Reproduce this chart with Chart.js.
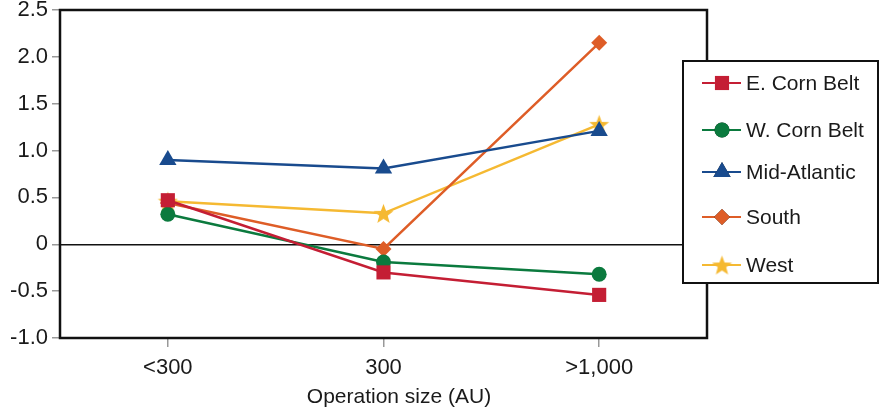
<!DOCTYPE html>
<html lang="en">
<head>
    <meta charset="UTF-8">
    <script src="https://cdn.jsdelivr.net/npm/chart.js"></script>
    <title>Operation size</title>
    <style>
        body { margin: 0; background: #fff; }
        #wrap { width: 879px; height: 416px; }
    </style>
</head>
<body>
    <div id="wrap"><canvas id="sizeChart"></canvas></div>

    <script>
        // data
        var sizes = ["<300", "300", ">1,000"]
        var eCornBelt = [0.47, -0.30, -0.54]
        var wCornBelt = [0.32, -0.19, -0.32]
        var midAtlantic = [0.90, 0.81, 1.21]
        var south = [0.44, -0.05, 2.15]
        var west = [0.46, 0.33, 1.28]
        var xTitle = "Operation size (AU)"

        var FONT = "'Liberation Sans', Arial, sans-serif"

        // filled five point star for the West series
        function makeStar (color, size) {
            var c = document.createElement("canvas")
            c.width = size
            c.height = size
            var g = c.getContext("2d")
            var cx = size / 2, cy = size / 2 + 1, R = size / 2, r = R * 0.42
            g.beginPath()
            for (var i = 0; i < 10; i++) {
                var rad = i % 2 == 0 ? R : r
                var a = -Math.PI / 2 + i * Math.PI / 5
                var px = cx + rad * Math.cos(a), py = cy + rad * Math.sin(a)
                if (i == 0) g.moveTo(px, py)
                else g.lineTo(px, py)
            }
            g.closePath()
            g.fillStyle = color
            g.fill()
            return c
        }

        function series (label, data, color, style, radius) {
            return {
                label: label,
                data: data,
                borderColor: color,
                backgroundColor: color,
                pointStyle: style,
                pointRadius: radius,
                pointHoverRadius: radius,
                borderWidth: 2.5,
                pointBorderWidth: 0,
                fill: false,
                tension: 0
            }
        }

        var starImg = makeStar("#f5b932", 21)

        var datasets = [
            series("E. Corn Belt", eCornBelt, "#c41e34", "rect", 10),
            series("W. Corn Belt", wCornBelt, "#0b7a3e", "circle", 7.5),
            series("Mid-Atlantic", midAtlantic, "#194b8e", "triangle", 10),
            series("South", south, "#de5d27", "rectRot", 8),
            series("West", west, "#f5b932", starImg, 8)
        ]

        // frame around the plot, and the axis title (sits a bit right of centre in the original)
        var frame = {
            id: "frame",
            beforeDatasetsDraw: function (chart) {
                var a = chart.chartArea, ctx = chart.ctx
                ctx.save()
                ctx.strokeStyle = "#111"
                ctx.lineWidth = 2.5
                ctx.strokeRect(a.left, a.top, a.right - a.left, a.bottom - a.top)
                ctx.fillStyle = "#1a1a1a"
                ctx.font = "21px " + FONT
                ctx.textAlign = "center"
                ctx.textBaseline = "middle"
                ctx.fillText(xTitle, 399, 397)
                ctx.restore()
            }
        }

        // boxed legend laid over the right edge of the plot
        var boxLegend = {
            id: "boxLegend",
            afterDraw: function (chart) {
                var ctx = chart.ctx
                var x = 683, y = 61, w = 195, h = 222
                ctx.save()
                ctx.fillStyle = "#fff"
                ctx.fillRect(x, y, w, h)
                ctx.strokeStyle = "#111"
                ctx.lineWidth = 2
                ctx.strokeRect(x, y, w, h)
                var rows = [83, 130, 172, 217, 265]
                chart.data.datasets.forEach(function (ds, i) {
                    var ry = rows[i]
                    ctx.strokeStyle = ds.borderColor
                    ctx.lineWidth = 2
                    ctx.beginPath()
                    ctx.moveTo(702, ry)
                    ctx.lineTo(741, ry)
                    ctx.stroke()
                    Chart.helpers.drawPoint(ctx, {
                        pointStyle: ds.pointStyle,
                        radius: ds.pointRadius,
                        borderWidth: 0,
                        rotation: 0
                    }, 722, ry)
                    ctx.fillStyle = ds.backgroundColor
                    ctx.fill()
                    ctx.fillStyle = "#1a1a1a"
                    ctx.font = "21px " + FONT
                    ctx.textAlign = "left"
                    ctx.textBaseline = "middle"
                    ctx.fillText(ds.label, 746, ry + 1)
                })
                ctx.restore()
            }
        }

        new Chart("sizeChart", {
            type: "line",
            data: { labels: sizes, datasets: datasets },
            options: {
                responsive: true,
                maintainAspectRatio: false,
                animation: false,
                layout: { padding: { top: 10, right: 172, left: 0, bottom: 0 } },
                plugins: {
                    legend: { display: false },
                    tooltip: { enabled: false }
                },
                scales: {
                    x: {
                        offset: true,
                        afterFit: function (s) { s.height = 78 },
                        border: { display: false },
                        grid: {
                            offset: false,
                            drawOnChartArea: false,
                            tickLength: 9,
                            color: "#999",
                            lineWidth: 1.5
                        },
                        ticks: {
                            color: "#1a1a1a",
                            font: { family: FONT, size: 22 },
                            padding: 8
                        }
                    },
                    y: {
                        min: -1,
                        max: 2.5,
                        afterFit: function (s) {
                            s.width = 60
                            s.paddingTop = 0
                            s.paddingBottom = 0
                        },
                        border: { display: false },
                        grid: {
                            color: function (c) { return c.tick && c.tick.value == 0 ? "#111" : "rgba(0,0,0,0)" },
                            tickColor: "#999",
                            lineWidth: 1.5,
                            tickLength: 8
                        },
                        ticks: {
                            stepSize: 0.5,
                            color: "#1a1a1a",
                            font: { family: FONT, size: 22 },
                            padding: 4,
                            callback: function (v) { return v == 0 ? "0" : v.toFixed(1) }
                        }
                    }
                }
            },
            plugins: [frame, boxLegend]
        })
    </script>
</body>
</html>
